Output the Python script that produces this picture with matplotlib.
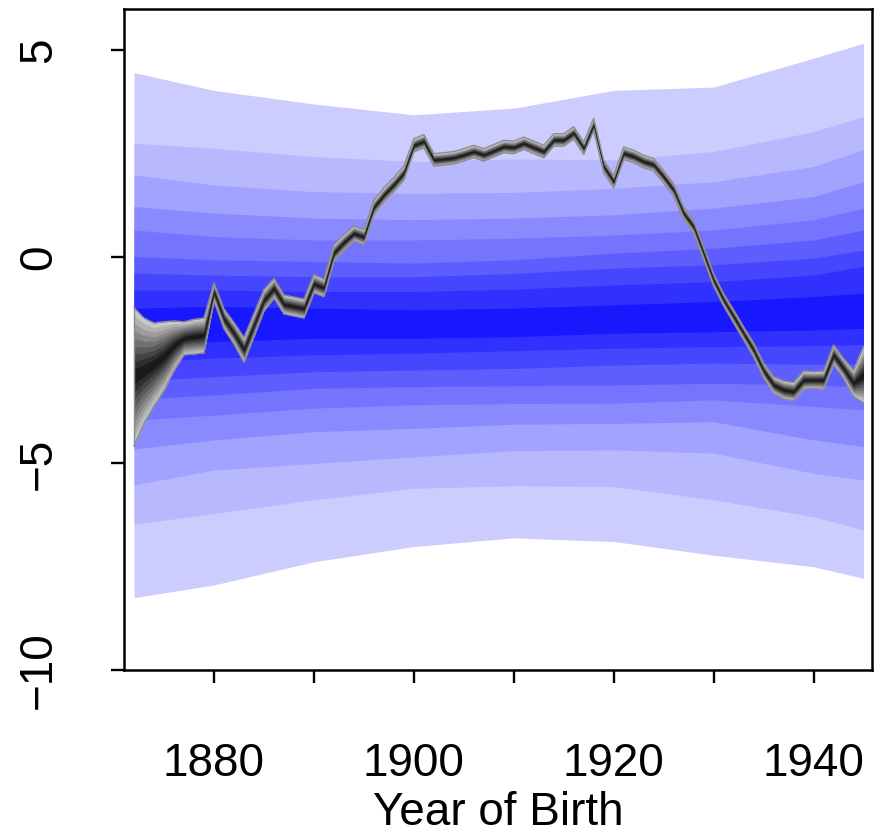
import numpy as np
import matplotlib
matplotlib.use("Agg")
import matplotlib.pyplot as plt

plt.rcParams['font.family'] = ['Liberation Sans', 'DejaVu Sans']

# blue fan: boundaries read at a few birth years (outermost first)
fan_years = [1872, 1880, 1890, 1900, 1910, 1920, 1930, 1940, 1945]
upper_bounds = [
    [4.46, 4.03, 3.70, 3.44, 3.60, 4.03, 4.11, 4.81, 5.17],
    [2.75, 2.63, 2.43, 2.31, 2.37, 2.35, 2.55, 3.03, 3.40],
    [1.99, 1.74, 1.58, 1.54, 1.56, 1.66, 1.82, 2.19, 2.59],
    [1.22, 1.06, 0.94, 0.90, 0.94, 1.02, 1.18, 1.46, 1.82],
    [0.65, 0.49, 0.41, 0.41, 0.45, 0.53, 0.65, 0.90, 1.18],
    [0.01, -0.07, -0.11, -0.15, -0.07, 0.09, 0.21, 0.41, 0.65],
    [-0.39, -0.44, -0.48, -0.48, -0.40, -0.27, -0.19, -0.03, 0.17],
    [-0.80, -0.80, -0.84, -0.84, -0.78, -0.68, -0.60, -0.44, -0.23],
    [-1.24, -1.20, -1.24, -1.28, -1.24, -1.16, -1.08, -0.96, -0.88],
]
lower_bounds = [
    [-8.25, -7.94, -7.38, -7.01, -6.80, -6.89, -7.22, -7.50, -7.78],
    [-6.47, -6.21, -5.88, -5.60, -5.54, -5.56, -5.88, -6.29, -6.61],
    [-5.52, -5.16, -5.00, -4.84, -4.69, -4.67, -4.75, -5.24, -5.40],
    [-4.65, -4.43, -4.23, -4.15, -4.05, -4.03, -3.99, -4.43, -4.59],
    [-3.95, -3.83, -3.66, -3.58, -3.55, -3.54, -3.46, -3.62, -3.70],
    [-3.45, -3.34, -3.18, -3.14, -3.12, -3.10, -3.06, -3.10, -3.15],
    [-3.00, -2.90, -2.78, -2.74, -2.70, -2.62, -2.57, -2.60, -2.60],
    [-2.55, -2.45, -2.37, -2.33, -2.27, -2.21, -2.17, -2.15, -2.12],
    [-2.15, -2.05, -1.97, -1.97, -1.93, -1.85, -1.81, -1.77, -1.73],
]
blue_cols = ['#ccccff', '#b8b8ff', '#a2a2ff', '#8a8aff', '#7474ff',
             '#5e5eff', '#4646ff', '#3030ff', '#1818ff']

# observed cohort line and its (grey) fan half-width
years = list(range(1872, 1946))
line = [-2.90, -2.75, -2.60, -2.40, -2.15, -1.97, -1.93, -1.90, -0.85, -1.50,
        -1.85, -2.25, -1.65, -1.05, -0.76, -1.15, -1.20, -1.25, -0.65, -0.75,
        0.10, 0.35, 0.57, 0.48, 1.20, 1.50, 1.75, 2.03, 2.70, 2.80,
        2.35, 2.37, 2.40, 2.47, 2.55, 2.47, 2.57, 2.67, 2.65, 2.75,
        2.65, 2.55, 2.83, 2.83, 3.00, 2.63, 3.20, 2.19, 1.82, 2.51,
        2.43, 2.31, 2.23, 1.94, 1.62, 1.06, 0.73, 0.09, -0.56, -1.04,
        -1.44, -1.85, -2.25, -2.75, -3.10, -3.22, -3.26, -2.98, -2.98, -2.98,
        -2.37, -2.70, -3.06, -2.85]
half_width = [1.67, 1.27, 1.00, 0.83, 0.60, 0.40, 0.42, 0.42, 0.22, 0.24,
              0.26, 0.30, 0.28, 0.26, 0.24, 0.23, 0.23, 0.23, 0.22, 0.21,
              0.20, 0.19, 0.18, 0.18, 0.17, 0.17, 0.17, 0.17, 0.16, 0.16,
              0.15, 0.15, 0.15, 0.15, 0.15, 0.15, 0.15, 0.15, 0.15, 0.15,
              0.15, 0.15, 0.15, 0.15, 0.15, 0.15, 0.15, 0.15, 0.15, 0.15,
              0.15, 0.15, 0.15, 0.15, 0.15, 0.15, 0.15, 0.15, 0.15, 0.15,
              0.16, 0.16, 0.17, 0.18, 0.20, 0.22, 0.22, 0.22, 0.20, 0.22,
              0.24, 0.24, 0.32, 0.68]
grey_cols = ['#c8c8c8', '#b2b2b2', '#9c9c9c', '#868686', '#707070',
             '#5a5a5a', '#444444', '#2e2e2e', '#1a1a1a']

fig = plt.figure(figsize=(8.86, 8.34), dpi=100)
ax = fig.add_axes([0.14, 0.1966, 0.8444, 0.7926])

# nested polygons, outermost first, so no seams between bands
fx = np.array(fan_years)
for k in range(len(blue_cols)):
    ax.fill_between(fx, lower_bounds[k], upper_bounds[k], color=blue_cols[k], lw=0)

yr = np.array(years)
mid = np.array(line)
hw = np.array(half_width)
fracs = np.linspace(1.0, 1.0 / len(grey_cols), len(grey_cols))
for f, c in zip(fracs, grey_cols):
    ax.fill_between(yr, mid - f * hw, mid + f * hw, color=c, lw=0)
ax.plot(yr, mid + hw, color='#8c8c8c', lw=1.0)
ax.plot(yr, mid - hw, color='#8c8c8c', lw=1.0)
ax.plot([yr[0], yr[0]], [mid[0] - hw[0], mid[0] + hw[0]], color='#8c8c8c', lw=1.0)

ax.set_xlim(1871.0, 1945.87)
ax.set_ylim(-10, 6)
ax.set_xticks(range(1880, 1941, 10))
ax.set_xticklabels(['1880', '', '1900', '', '1920', '', '1940'])
ax.set_yticks([-10, -5, 0, 5])
ax.set_yticklabels(['\u221210', '\u22125', '0', '5'], rotation=90, va='center')
ax.tick_params(axis='both', direction='out', length=9.5, width=1.7, labelsize=33)
ax.tick_params(axis='x', pad=42)
ax.tick_params(axis='y', pad=36)
for s in ax.spines.values():
    s.set_linewidth(1.8)
ax.set_xlabel('Year of Birth', fontsize=33, labelpad=4)

fig.savefig('out.png', dpi=100)
